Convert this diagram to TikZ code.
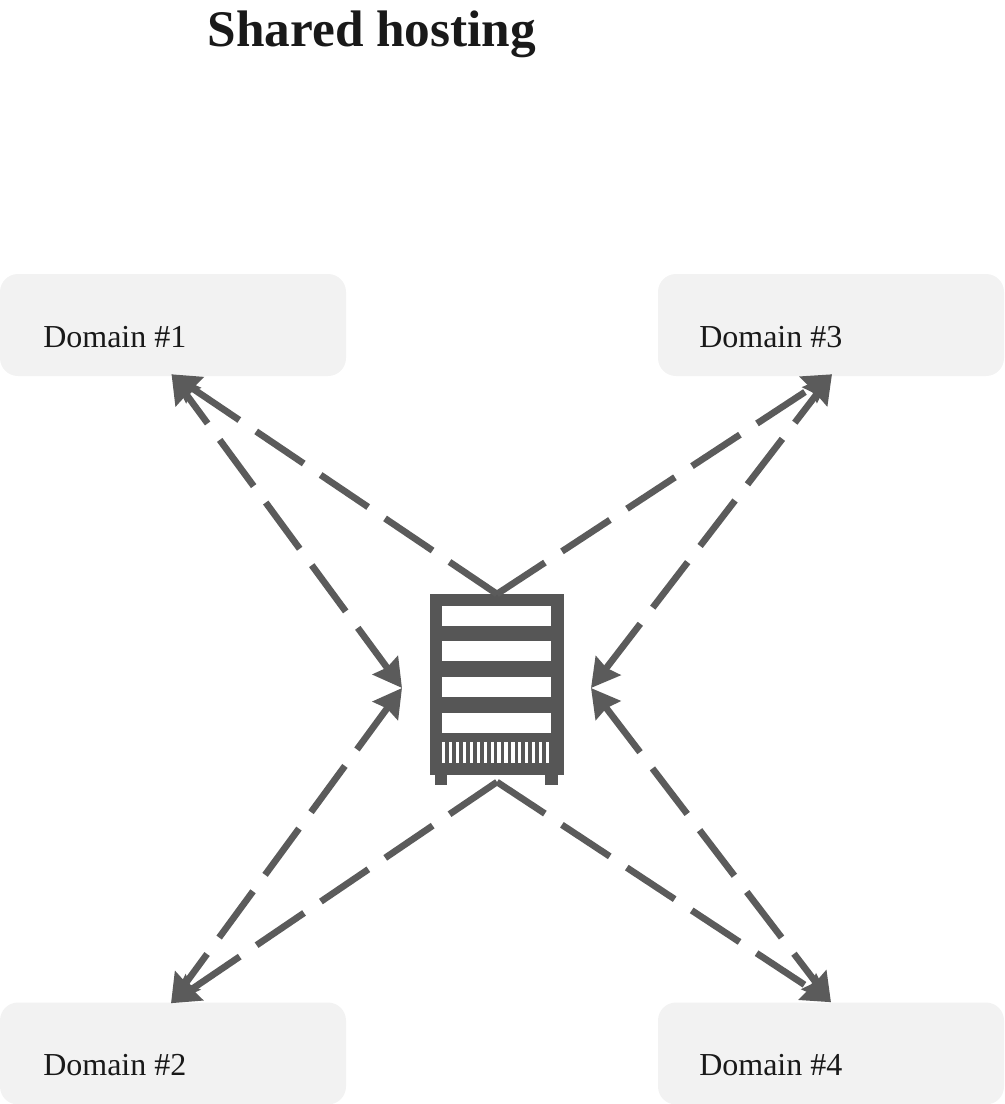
\documentclass[tikz,border=0pt]{standalone}
\usepackage{fontspec}
\setmainfont{Liberation Serif}
\usetikzlibrary{arrows.meta}
\definecolor{rack}{HTML}{565656}
\definecolor{link}{HTML}{5B5B5B}
\definecolor{boxfill}{HTML}{F2F2F2}
\tikzset{
  x=0.75pt,y=-0.75pt,
  domainbox/.style={fill=boxfill,draw=none,rounded corners=13.5pt,minimum width=259.5pt,minimum height=76.5pt,inner sep=0pt},
  domaintext/.style={anchor=base west,inner sep=0pt,font=\fontsize{24}{28}\selectfont,text=black!90},
  titletext/.style={anchor=base,inner sep=0pt,font=\fontsize{38.5}{44}\selectfont\bfseries,text=black!90},
  headtip/.tip={Stealth[length=21pt,width=23pt,inset=2pt]},
  oneway/.style={draw=link,line width=5pt,dash pattern=on 43pt off 15.3pt,-headtip},
  twoway/.style={draw=link,line width=5pt,dash pattern=on 43pt off 15.3pt,dash phase=15pt,headtip-headtip},
  rackbody/.style={fill=rack,draw=none},
  rackslot/.style={fill=white,draw=none},
}
\begin{document}
\begin{tikzpicture}
\useasboundingbox (0,0) rectangle (1004,1104);
\node[titletext] (title) at (372,46) {Shared hosting};
\node[domainbox] (d1) at (173,325) {};
\node[domainbox] (d3) at (831,325) {};
\node[domainbox] (d2) at (173,1053.5) {};
\node[domainbox] (d4) at (831,1053.5) {};
\node[domaintext] (t1) at (43,347) {Domain \#1};
\node[domaintext] (t3) at (699,347) {Domain \#3};
\node[domaintext] (t2) at (43,1075) {Domain \#2};
\node[domaintext] (t4) at (699,1075) {Domain \#4};
% server
\fill[rackbody] (435,770) rectangle (447,785);
\fill[rackbody] (545,770) rectangle (558,785);
\fill[rackbody] (430,594) rectangle (564,775);
\foreach \y in {606,641,677,712.5} \fill[rackslot] (442,\y) rectangle (551,\y+20);
\foreach \i in {0,...,15} \fill[rackslot] (442+\i*6.93,742) rectangle (445.2+\i*6.93,762.5);
\coordinate (top) at (497,594);
\coordinate (bottom) at (497,782);
\coordinate (left) at (402,688);
\coordinate (right) at (591,688);
\coordinate (p1) at ([shift={(-1.5,-2)}]d1.south);
\coordinate (p3) at ([shift={(1,-2)}]d3.south);
\coordinate (p2) at ([shift={(-2,1)}]d2.north);
\coordinate (p4) at (d4.north);
% connectors
\draw[oneway] (top) -- (p1);
\draw[oneway] (top) -- (p3);
\draw[oneway] (bottom) -- (p2);
\draw[oneway] (bottom) -- (p4);
\draw[twoway] (p1) -- (left);
\draw[twoway] (p2) -- (left);
\draw[twoway] (p3) -- (right);
\draw[twoway] (p4) -- (right);
\end{tikzpicture}
\end{document}
